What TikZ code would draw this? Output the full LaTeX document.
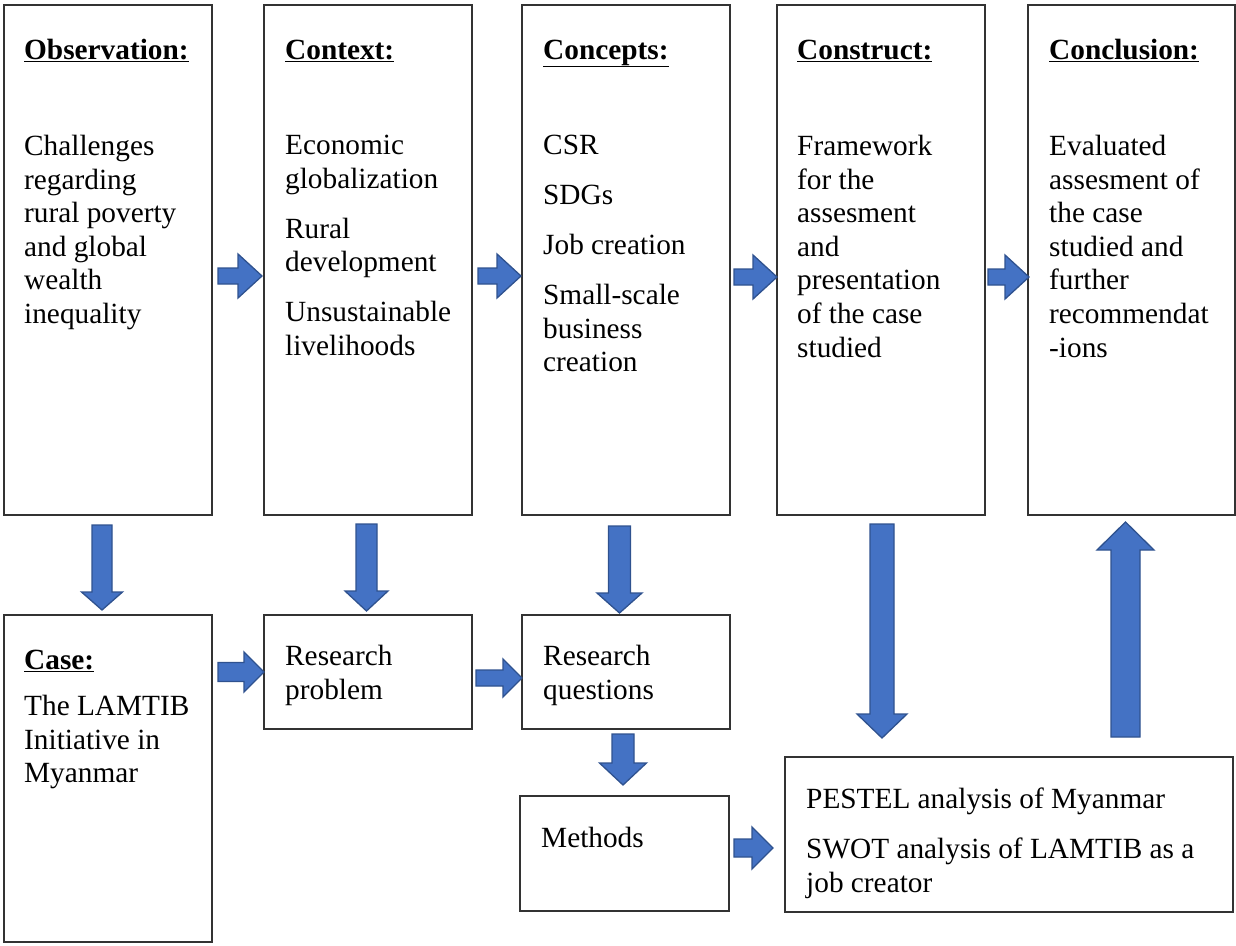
\documentclass[tikz,border=0pt]{standalone}
\usepackage{fontspec}
\setmainfont{Liberation Serif}
\usepackage{tikz}
\usetikzlibrary{calc}

\definecolor{arrowblue}{HTML}{4472C4}
\definecolor{arrowedge}{HTML}{2F528F}
\newcommand\boxfont{\fontsize{29.3pt}{33.6pt}\selectfont}

\begin{document}
\begin{tikzpicture}[
        x=1pt, y=-1pt,
        box/.style={
            draw=black!80,
            line width=1.5pt,
            anchor=north west,
            inner sep=0pt,
            outer sep=0pt
        },
        ttl/.style={anchor=base west, inner sep=0pt, font=\boxfont\bfseries},
        % first baseline sits 22pt under the top of the node
        txt/.style={anchor=north west, yshift=20pt, inner sep=0pt, align=left,
            font=\boxfont, execute at begin node={\rule{0pt}{22pt}}},
        % block arrow: shaft half width, head half width, head length
        blk/.style n args={3}{
            fill=arrowblue, draw=arrowedge, line width=1.3pt, line join=miter,
            to path={let \p1=(\tikztostart), \p2=(\tikztotarget),
                \n1={atan2(\y2-\y1,\x2-\x1)} in
                ($(\p1)+(\n1-90:#1pt)$)
                -- ($(\p2)+(\n1+180:#3pt)+(\n1-90:#1pt)$)
                -- ($(\p2)+(\n1+180:#3pt)+(\n1-90:#2pt)$)
                -- (\p2)
                -- ($(\p2)+(\n1+180:#3pt)+(\n1+90:#2pt)$)
                -- ($(\p2)+(\n1+180:#3pt)+(\n1+90:#1pt)$)
                -- ($(\p1)+(\n1+90:#1pt)$) -- cycle}
        }
    ]
    \useasboundingbox (0,0) rectangle (1236,945);

    % Top row
    \node[box, minimum width=208pt, minimum height=510pt] (obs) at (4,5) {};
    \node[box, minimum width=208pt, minimum height=510pt] (ctx) at (264,5) {};
    \node[box, minimum width=208pt, minimum height=510pt] (cpt) at (522,5) {};
    \node[box, minimum width=208pt, minimum height=510pt] (cst) at (777,5) {};
    \node[box, minimum width=207pt, minimum height=510pt] (ccl) at (1028,5) {};

    % Bottom row
    \node[box, minimum width=208pt, minimum height=327pt] (case) at (4,615) {};
    \node[box, minimum width=208pt, minimum height=114pt] (rp) at (264,615) {};
    \node[box, minimum width=208pt, minimum height=114pt] (rq) at (522,615) {};
    \node[box, minimum width=209pt, minimum height=115pt] (mth) at (520,796) {};
    \node[box, minimum width=448pt, minimum height=155pt] (pst) at (785,757) {};

    % Texts
    \node[ttl] (obs-ttl) at (24,59) {\underline{Observation:}};
    \node[txt] (obs-txt) at (24,155) {Challenges\\regarding\\rural poverty\\and global\\wealth\\inequality};
    \node[ttl] (ctx-ttl) at (285,59) {\underline{Context:}};
    \node[txt] (ctx-txt) at (285,155) {Economic\\globalization\\[16.4pt]Rural\\development\\[16.4pt]Unsustainable\\livelihoods};
    \node[ttl] (cpt-ttl) at (543,59) {\underline{Concepts:}};
    \node[txt] (cpt-txt) at (543,155) {CSR\\[16.4pt]SDGs\\[16.4pt]Job creation\\[16.4pt]Small-scale\\business\\creation};
    \node[ttl] (cst-ttl) at (797,59) {\underline{Construct:}};
    \node[txt] (cst-txt) at (797,155) {Framework\\for the\\assesment\\and\\presentation\\of the case\\studied};
    \node[ttl] (ccl-ttl) at (1049,59) {\underline{Conclusion:}};
    \node[txt] (ccl-txt) at (1049,155) {Evaluated\\assesment of\\the case\\studied and\\further\\recommendat\\-ions};
    \node[ttl] (case-ttl) at (24,669) {\underline{Case:}};
    \node[txt] (case-txt) at (24,715) {The LAMTIB\\Initiative in\\Myanmar};
    \node[txt] (rp-txt) at (285,665) {Research\\problem};
    \node[txt] (rq-txt) at (543,665) {Research\\questions};
    \node[txt] (mth-txt) at (541,845) {Methods};
    \node[txt] (pst-txt) at (806,808) {PESTEL analysis of Myanmar\\[16.4pt]SWOT analysis of LAMTIB as a\\job creator};

    % Arrows along the top row
    \draw[blk={8}{22}{24}] ([shift={(6,16)}]obs.east) to ([shift={(-2,16)}]ctx.west);
    \draw[blk={8}{22}{24}] ([shift={(6,16)}]ctx.east) to ([shift={(-1,16)}]cpt.west);
    \draw[blk={8}{22}{24}] ([shift={(4,17)}]cpt.east) to ([shift={(0,17)}]cst.west);
    \draw[blk={8}{22}{24}] ([shift={(3,17)}]cst.east) to ([shift={(1,17)}]ccl.west);

    % Arrows downwards
    \draw[blk={10}{20.5}{18}] ([shift={(-6,10)}]obs.south) to ([shift={(-6,-5)}]case.north);
    \draw[blk={10.5}{21.5}{20}] ([shift={(-1.5,9)}]ctx.south) to ([shift={(-1.5,-4)}]rp.north);
    \draw[blk={11}{22.5}{20}] ([shift={(-6.5,11)}]cpt.south) to ([shift={(-6.5,-2)}]rq.north);
    \draw[blk={11}{23.5}{22}] ([shift={(-3,5)}]rq.south) to ([shift={(-1.5,-11)}]mth.north);
    \draw[blk={12}{25}{24}] ([shift={(1,9)}]cst.south) to ([shift={(1,-19)}]cst.south |- pst.north);
    \draw[blk={14.5}{28.5}{28}] ([shift={(-6,-20)}]ccl.south |- pst.north) to ([shift={(-6,7)}]ccl.south);

    % Arrows along the bottom row
    \draw[blk={9.5}{20}{20}] ([xshift=6pt]case.east |- rp.west) to (rp.west);
    \draw[blk={8}{19}{19}] ([shift={(4,6)}]rp.east) to ([shift={(0,6)}]rq.west);
    \draw[blk={9}{21}{21}] ([shift={(5,-5.5)}]mth.east) to ([shift={(-12,13.5)}]pst.west);

\end{tikzpicture}
\end{document}
